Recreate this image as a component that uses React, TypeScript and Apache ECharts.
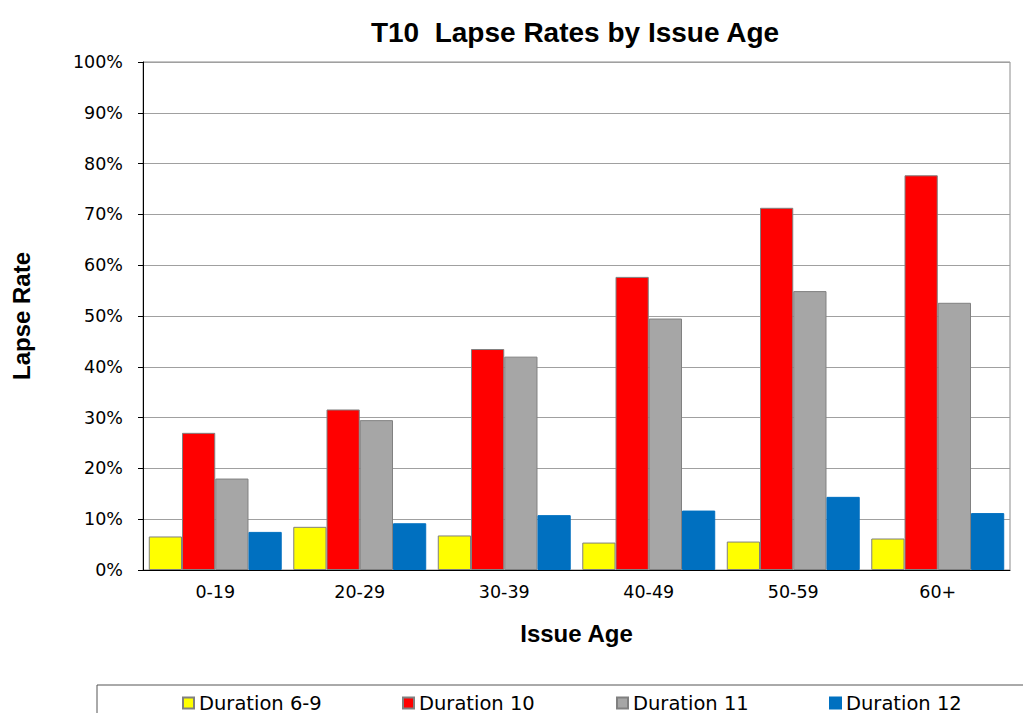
import React, { useEffect, useRef } from "react";
import * as echarts from "echarts";

const categories = ["0-19", "20-29", "30-39", "40-49", "50-59", "60+"];
const dur69 = [6.6, 8.5, 6.8, 5.4, 5.6, 6.2];
const dur10 = [27.0, 31.6, 43.5, 57.7, 71.3, 77.7];
const dur11 = [18.0, 29.5, 42.0, 49.5, 54.9, 52.6];
const dur12 = [7.5, 9.2, 10.8, 11.7, 14.4, 11.2];
const seriesNames = ["Duration 6-9", "Duration 10", "Duration 11", "Duration 12"];
const colors = ["#FFFF00", "#FF0000", "#A6A6A6", "#0070C0"];

export default function App() {
  const ref = useRef<HTMLDivElement>(null);
  useEffect(() => {
    document.body.style.margin = "0";
    const chart = echarts.init(ref.current!, null, { renderer: "svg" });
    const font = "Liberation Sans, Arial, sans-serif";
    const wide = "DejaVu Sans, sans-serif";
    const data = [dur69, dur10, dur11, dur12];
    const legendLefts = [177, 397, 611, 824];
    chart.setOption({
      animation: false,
      backgroundColor: "#fff",
      title: {
        text: "T10  Lapse Rates by Issue Age",
        left: 570,
        top: 13,
        textAlign: "center",
        textStyle: { fontFamily: font, fontSize: 28, fontWeight: "bold", color: "#000" },
      },
      grid: {
        left: 143,
        right: 13,
        top: 62,
        bottom: 143,
        show: true,
        borderColor: "#8c8c8c",
        borderWidth: 1,
      },
      legend: seriesNames.map((name, i) => ({
        left: legendLefts[i],
        top: 688,
        itemWidth: 11,
        itemHeight: 11,
        icon: "rect",
        textStyle: { fontFamily: wide, fontSize: 19.5, color: "#000" },
        data: [name],
      })),
      xAxis: {
        type: "category",
        data: categories,
        name: "Issue Age",
        nameLocation: "middle",
        nameGap: 51,
        nameTextStyle: { fontFamily: font, fontSize: 24, fontWeight: "bold", color: "#000" },
        axisLine: { lineStyle: { color: "#000", width: 1 } },
        axisTick: { show: false },
        axisLabel: { fontFamily: wide, fontSize: 17.5, color: "#000", margin: 13 },
      },
      yAxis: {
        type: "value",
        min: 0,
        max: 100,
        interval: 10,
        name: "Lapse Rate",
        nameLocation: "middle",
        nameGap: 110,
        nameTextStyle: { fontFamily: font, fontSize: 24, fontWeight: "bold", color: "#000" },
        axisLine: { show: true, lineStyle: { color: "#000", width: 1 } },
        axisTick: { show: true, length: 5, lineStyle: { color: "#000" } },
        axisLabel: { fontFamily: wide, fontSize: 17.5, color: "#000", margin: 20, formatter: "{value}%" },
        splitLine: { lineStyle: { color: "#a0a0a0", width: 1 } },
      },
      series: seriesNames.map((name, i) => ({
        name,
        type: "bar",
        data: data[i],
        barGap: "0%",
        barCategoryGap: "8%",
        itemStyle: {
          color: colors[i],
          borderColor: i === 3 ? colors[i] : "#808080",
          borderWidth: 1,
        },
      })),
      graphic: [
        {
          type: "rect",
          shape: { x: 97, y: 685, width: 1000, height: 100 },
          style: { fill: "none", stroke: "#555", lineWidth: 1 },
          silent: true,
        },
      ],
    });
    return () => chart.dispose();
  }, []);
  return <div ref={ref} style={{ width: 1023, height: 713 }} />;
}
